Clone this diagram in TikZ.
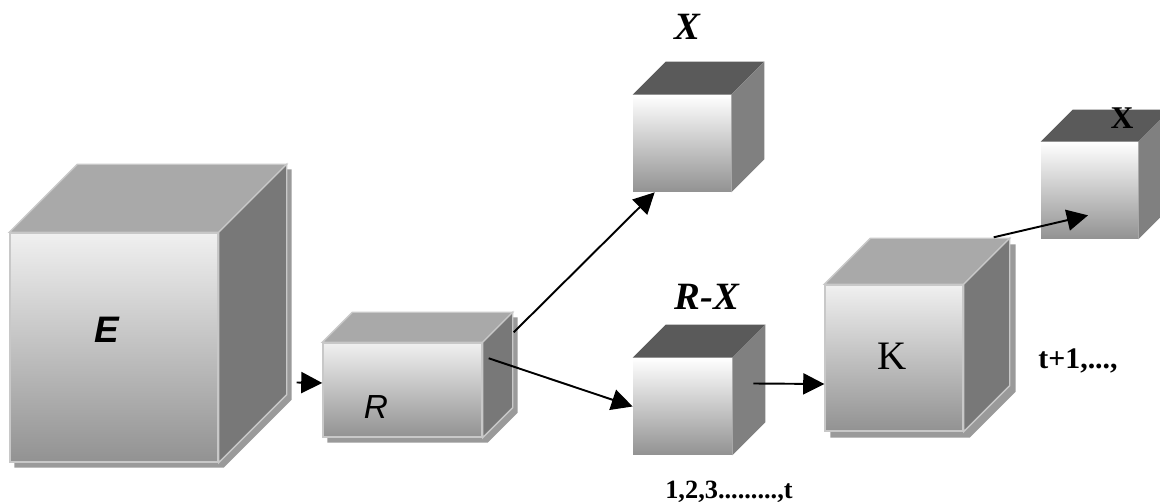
\documentclass[tikz,border=0pt]{standalone}
\usepackage{fontspec}
\setmainfont{Liberation Serif}
\setsansfont{Liberation Sans}
\usetikzlibrary{arrows.meta,calc,backgrounds}

\definecolor{edgegray}{HTML}{C8C8C8}
\definecolor{bigtopc}{HTML}{A9A9A9}
\definecolor{bigsidec}{HTML}{787878}
\definecolor{smalltopc}{HTML}{5A5A5A}
\definecolor{smallsidec}{HTML}{808080}
\definecolor{frontlight}{HTML}{F0F0F0}
\definecolor{frontdark}{HTML}{929292}
\definecolor{shadowc}{HTML}{9A9A9A}

% top and right face of a cube, the front face is node #1
\newcommand{\cubefaces}[4]{%
  \path[#3] (#1.north west) -- ++(#2,-#2) -- ($(#1.north east)+(#2,-#2)$) -- (#1.north east) -- cycle;
  \path[#4] (#1.north east) -- ++(#2,-#2) -- ($(#1.south east)+(#2,-#2)$) -- (#1.south east) -- cycle;
}
% shadow of the whole cube
\newcommand{\cubeshadow}[3]{%
  \begin{scope}[transform canvas={shift={(#3,#3)}}]
  \fill[shadowc] (#1.south west) -- (#1.north west) -- ++(#2,-#2)
    -- ($(#1.north east)+(#2,-#2)$) -- ($(#1.south east)+(#2,-#2)$) -- (#1.south east) -- cycle;
  \end{scope}
}

\begin{document}
\begin{tikzpicture}[x=0.02cm, y=-0.02cm,
		facesize/.style 2 args={minimum width=#1*0.02cm, minimum height=#2*0.02cm},
		bigfront/.style={draw=edgegray, line width=0.8pt, inner sep=0, top color=frontlight, bottom color=frontdark},
		smallfront/.style={inner sep=0, top color=white, bottom color=frontdark},
		bigtop/.style={fill=bigtopc, draw=edgegray, line width=0.8pt},
		bigside/.style={fill=bigsidec, draw=edgegray, line width=0.8pt},
		smalltop/.style={fill=smalltopc},
		smallside/.style={fill=smallsidec},
		seriflab/.style={font=\bfseries\itshape\fontsize{22}{26}\selectfont},
		numlab/.style={font=\bfseries\fontsize{15}{18}\selectfont},
		arr/.style={-{Triangle[length=12pt,width=12pt]}, line width=1.1pt}
	]
	\useasboundingbox (0,0) rectangle (1160,502);
	\clip (0,0) rectangle (1160,502);

	\node[bigfront, facesize={208}{229}] (E) at (114,347.5) {};
	\cubefaces{E}{68}{bigtop}{bigside}
	\node[bigfront, facesize={159}{94}] (R) at (402.5,390) {};
	\cubefaces{R}{30}{bigtop}{bigside}
	\node[smallfront, facesize={98}{97}] (X) at (682,143.5) {};
	\cubefaces{X}{33}{smalltop}{smallside}
	\node[smallfront, facesize={99}{97}] (RX) at (682.5,406.5) {};
	\cubefaces{RX}{33}{smalltop}{smallside}
	\node[bigfront, facesize={138}{146}] (K) at (894,358) {};
	\cubefaces{K}{46}{bigtop}{bigside}
	\node[smallfront, facesize={97}{97}] (X2) at (1089.5,190.5) {};
	\cubefaces{X2}{32}{smalltop}{smallside}

	\begin{scope}[on background layer]
		\cubeshadow{E}{68}{5}
		\cubeshadow{R}{30}{5}
		\cubeshadow{K}{46}{6}
	\end{scope}

	\node[font=\sffamily\bfseries\itshape\fontsize{21}{25}\selectfont] (labE) at (107,330) {E};
	\node[font=\sffamily\itshape\fontsize{19}{23}\selectfont] (labR) at (376,407) {R};
	\node[seriflab] (labX) at (687,27) {X};
	\node[seriflab] (labRX) at (707,297) {R-X};
	\node[font=\fontsize{23}{27}\selectfont] (labK) at (892,356) {K};
	\node[font=\bfseries\fontsize{18}{21}\selectfont] (labX2) at (1122,118) {X};
	\node[numlab] (labT) at (729,492) {1,2,3.........,t};
	\node[numlab, font=\bfseries\fontsize{17}{20}\selectfont] (labT1) at (1078,361) {t+1,...,};

	\draw[arr] ($(E.east)+(78,35)$) -- ($(R.west)+(0,-7)$);
	\draw[arr] ($(R.north east)+(31,-10)$) -- ($(X.south west)+(22,0)$);
	\draw[arr] ($(R.north east)+(6,16)$) -- (RX.west);
	\draw[arr] ($(RX.east)+(21,-23)$) -- ($(K.west)+(0,26)$);
	\draw[arr] ($(K.north east)+(30,-47)$) -- ($(X2.south)+(-1.5,-24)$);
\end{tikzpicture}
\end{document}
